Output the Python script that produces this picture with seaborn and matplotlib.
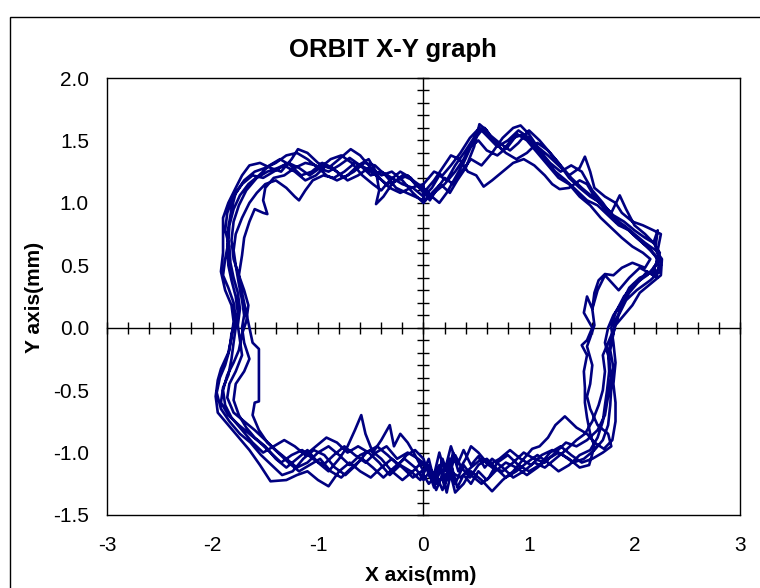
import pandas as pd
import matplotlib.pyplot as plt
import seaborn as sns
from matplotlib.patches import Rectangle
from matplotlib.ticker import MultipleLocator

# Orbit samples (x mm, y mm), one list per revolution
loop_1 = [(0.00,1.05),(0.08,1.12),(0.15,1.22),(0.22,1.18),(0.30,1.30),(0.40,1.42),(0.50,1.55),(0.58,1.60),(0.66,1.50),(0.75,1.42),(0.85,1.52),(0.95,1.55),(1.05,1.45),(1.15,1.35),(1.25,1.25),(1.35,1.18),(1.45,1.10),(1.55,1.02),(1.65,0.98),(1.75,0.90),(1.85,0.82),(1.95,0.78),(2.05,0.70),(2.15,0.62),(2.22,0.55),(2.18,0.45),(2.05,0.40),(1.95,0.32),(1.88,0.20),(1.80,0.10),(1.75,0.00),(1.72,-0.12),(1.76,-0.25),(1.78,-0.40),(1.75,-0.55),(1.72,-0.70),(1.65,-0.82),(1.55,-0.90),(1.45,-0.95),(1.35,-0.92),(1.25,-1.00),(1.15,-1.08),(1.05,-1.05),(0.95,-1.00),(0.85,-1.08),(0.75,-1.15),(0.65,-1.12),(0.55,-1.05),(0.45,-1.12),(0.35,-1.20),(0.25,-1.15),(0.15,-1.22),(0.05,-1.12),(-0.05,-1.05),(-0.15,-1.00),(-0.25,-1.05),(-0.35,-0.95),(-0.45,-1.00),(-0.55,-1.08),(-0.65,-1.02),(-0.75,-0.95),(-0.85,-1.02),(-0.95,-1.10),(-1.05,-1.05),(-1.15,-0.98),(-1.25,-1.02),(-1.35,-1.08),(-1.45,-1.00),(-1.55,-0.92),(-1.65,-0.85),(-1.75,-0.78),(-1.85,-0.70),(-1.92,-0.60),(-1.90,-0.48),(-1.85,-0.38),(-1.82,-0.25),(-1.80,-0.12),(-1.78,0.00),(-1.76,0.12),(-1.78,0.25),(-1.82,0.38),(-1.85,0.50),(-1.86,0.65),(-1.85,0.80),(-1.82,0.95),(-1.78,1.08),(-1.70,1.18),(-1.60,1.25),(-1.50,1.28),(-1.40,1.32),(-1.30,1.38),(-1.20,1.40),(-1.10,1.35),(-1.00,1.28),(-0.90,1.25),(-0.80,1.30),(-0.70,1.36),(-0.60,1.30),(-0.50,1.22),(-0.40,1.25),(-0.30,1.20),(-0.20,1.15),(-0.10,1.12),(0.00,1.05)]

loop_2 = [(0.00,1.10),(0.06,1.02),(0.12,1.10),(0.20,1.20),(0.28,1.15),(0.36,1.25),(0.45,1.35),(0.55,1.30),(0.65,1.40),(0.75,1.52),(0.85,1.60),(0.92,1.62),(1.00,1.55),(1.08,1.45),(1.18,1.38),(1.28,1.30),(1.38,1.22),(1.48,1.28),(1.53,1.37),(1.58,1.25),(1.62,1.12),(1.72,1.05),(1.82,1.00),(1.88,0.92),(1.98,0.85),(2.08,0.82),(2.18,0.78),(2.25,0.75),(2.22,0.62),(2.25,0.50),(2.18,0.42),(2.05,0.48),(1.95,0.40),(1.85,0.30),(1.72,0.42),(1.65,0.30),(1.60,0.15),(1.62,0.02),(1.58,-0.08),(1.55,-0.15),(1.60,-0.30),(1.58,-0.45),(1.55,-0.55),(1.58,-0.65),(1.65,-0.78),(1.75,-0.85),(1.78,-0.95),(1.70,-1.00),(1.60,-1.05),(1.50,-1.08),(1.40,-1.02),(1.30,-0.95),(1.20,-1.00),(1.10,-1.10),(1.00,-1.15),(0.90,-1.10),(0.80,-1.02),(0.70,-1.08),(0.62,-1.20),(0.55,-1.25),(0.45,-1.18),(0.38,-1.10),(0.30,-1.25),(0.25,-1.05),(0.20,-1.28),(0.15,-1.10),(0.10,-1.22),(0.05,-1.05),(0.00,-1.15),(-0.08,-1.02),(-0.15,-0.92),(-0.22,-0.85),(-0.28,-0.95),(-0.32,-0.78),(-0.40,-0.90),(-0.48,-1.00),(-0.55,-0.85),(-0.59,-0.70),(-0.65,-0.82),(-0.72,-0.95),(-0.80,-1.05),(-0.90,-1.15),(-1.00,-1.08),(-1.10,-0.98),(-1.20,-1.05),(-1.30,-1.12),(-1.40,-1.05),(-1.50,-0.95),(-1.60,-0.88),(-1.68,-0.80),(-1.75,-0.70),(-1.80,-0.58),(-1.78,-0.45),(-1.70,-0.35),(-1.65,-0.25),(-1.70,-0.12),(-1.72,0.00),(-1.70,0.10),(-1.72,0.22),(-1.75,0.35),(-1.78,0.50),(-1.80,0.62),(-1.78,0.75),(-1.72,0.88),(-1.65,1.00),(-1.58,1.08),(-1.50,1.15),(-1.40,1.18),(-1.30,1.12),(-1.22,1.05),(-1.18,1.02),(-1.12,1.10),(-1.05,1.18),(-0.95,1.22),(-0.85,1.20),(-0.75,1.25),(-0.65,1.32),(-0.55,1.28),(-0.45,1.22),(-0.35,1.15),(-0.25,1.18),(-0.15,1.22),(-0.08,1.15),(0.00,1.10)]

loop_3 = [(0.00,1.00),(0.08,1.08),(0.16,1.15),(0.25,1.08),(0.32,1.18),(0.40,1.28),(0.48,1.45),(0.53,1.63),(0.60,1.58),(0.68,1.48),(0.78,1.40),(0.88,1.35),(0.98,1.40),(1.08,1.48),(1.18,1.42),(1.28,1.32),(1.38,1.20),(1.48,1.12),(1.58,1.05),(1.68,1.00),(1.78,0.92),(1.86,1.06),(1.92,0.95),(2.00,0.82),(2.10,0.75),(2.18,0.68),(2.24,0.60),(2.20,0.50),(2.12,0.42),(2.00,0.35),(1.90,0.25),(1.82,0.12),(1.78,0.00),(1.80,-0.12),(1.82,-0.28),(1.80,-0.45),(1.82,-0.60),(1.82,-0.75),(1.79,-0.90),(1.71,-0.97),(1.62,-0.92),(1.55,-0.85),(1.45,-0.80),(1.34,-0.71),(1.25,-0.78),(1.18,-0.88),(1.10,-0.95),(1.03,-0.97),(0.95,-1.05),(0.85,-1.15),(0.75,-1.22),(0.65,-1.31),(0.55,-1.22),(0.45,-1.15),(0.38,-1.25),(0.30,-1.32),(0.25,-1.15),(0.18,-1.30),(0.12,-1.18),(0.05,-1.25),(-0.02,-1.15),(-0.10,-1.20),(-0.20,-1.12),(-0.30,-1.05),(-0.40,-1.12),(-0.50,-1.20),(-0.60,-1.15),(-0.70,-1.08),(-0.80,-1.15),(-0.90,-1.27),(-1.00,-1.22),(-1.10,-1.15),(-1.20,-1.18),(-1.30,-1.22),(-1.45,-1.23),(-1.55,-1.10),(-1.65,-0.98),(-1.75,-0.88),(-1.85,-0.78),(-1.95,-0.68),(-1.97,-0.55),(-1.95,-0.42),(-1.92,-0.33),(-1.85,-0.20),(-1.82,-0.08),(-1.80,0.05),(-1.82,0.18),(-1.88,0.30),(-1.92,0.45),(-1.90,0.60),(-1.90,0.75),(-1.90,0.88),(-1.85,1.00),(-1.78,1.12),(-1.72,1.22),(-1.65,1.30),(-1.55,1.32),(-1.45,1.28),(-1.35,1.25),(-1.25,1.35),(-1.19,1.43),(-1.10,1.40),(-1.00,1.32),(-0.90,1.28),(-0.80,1.35),(-0.69,1.43),(-0.60,1.38),(-0.50,1.28),(-0.40,1.22),(-0.30,1.25),(-0.20,1.18),(-0.10,1.08),(0.00,1.00)]

loop_4 = [(0.00,1.08),(0.10,1.18),(0.18,1.28),(0.26,1.38),(0.34,1.35),(0.42,1.25),(0.50,1.22),(0.57,1.13),(0.65,1.18),(0.75,1.25),(0.85,1.32),(0.95,1.35),(1.05,1.30),(1.15,1.22),(1.22,1.15),(1.29,1.11),(1.38,1.12),(1.48,1.18),(1.55,1.15),(1.62,1.05),(1.72,0.95),(1.82,0.85),(1.92,0.80),(2.02,0.72),(2.12,0.65),(2.20,0.58),(2.24,0.45),(2.15,0.38),(2.02,0.30),(1.92,0.22),(1.85,0.10),(1.80,-0.02),(1.75,-0.12),(1.70,-0.22),(1.72,-0.35),(1.70,-0.50),(1.66,-0.62),(1.60,-0.75),(1.53,-0.85),(1.45,-0.90),(1.35,-0.98),(1.25,-1.05),(1.15,-1.12),(1.05,-1.08),(0.95,-1.15),(0.85,-1.20),(0.75,-1.12),(0.65,-1.05),(0.58,-1.12),(0.52,-1.03),(0.45,-1.10),(0.38,-0.98),(0.32,-1.10),(0.26,-0.95),(0.20,-1.15),(0.15,-1.00),(0.10,-1.18),(0.04,-1.10),(-0.03,-1.22),(-0.12,-1.15),(-0.22,-1.10),(-0.32,-1.18),(-0.42,-1.08),(-0.52,-1.00),(-0.62,-0.95),(-0.72,-1.00),(-0.82,-0.92),(-0.92,-0.88),(-1.02,-0.95),(-1.12,-1.02),(-1.22,-0.95),(-1.32,-0.90),(-1.42,-0.95),(-1.52,-1.00),(-1.62,-0.92),(-1.72,-0.82),(-1.82,-0.72),(-1.88,-0.62),(-1.90,-0.50),(-1.86,-0.38),(-1.80,-0.28),(-1.75,-0.18),(-1.72,-0.05),(-1.68,0.05),(-1.66,0.18),(-1.70,0.30),(-1.75,0.42),(-1.80,0.55),(-1.82,0.70),(-1.80,0.85),(-1.75,0.98),(-1.68,1.10),(-1.58,1.20),(-1.48,1.25),(-1.38,1.28),(-1.28,1.32),(-1.18,1.28),(-1.08,1.22),(-0.98,1.28),(-0.88,1.35),(-0.78,1.38),(-0.68,1.32),(-0.58,1.22),(-0.48,1.15),(-0.40,1.10),(-0.32,1.18),(-0.22,1.25),(-0.12,1.20),(0.00,1.08)]

loop_5 = [(0.00,1.12),(0.08,1.05),(0.15,1.00),(0.22,1.08),(0.30,1.20),(0.38,1.32),(0.45,1.45),(0.52,1.50),(0.60,1.42),(0.70,1.38),(0.80,1.45),(0.89,1.55),(0.98,1.50),(1.08,1.40),(1.18,1.30),(1.28,1.20),(1.38,1.15),(1.48,1.05),(1.58,0.98),(1.68,0.88),(1.78,0.80),(1.88,0.72),(1.98,0.65),(2.08,0.60),(2.15,0.55),(2.10,0.48),(1.98,0.52),(1.88,0.48),(1.80,0.42),(1.72,0.43),(1.66,0.38),(1.62,0.28),(1.60,0.15),(1.55,0.25),(1.52,0.12),(1.60,0.00),(1.55,-0.10),(1.50,-0.14),(1.55,-0.22),(1.52,-0.35),(1.53,-0.48),(1.53,-0.60),(1.55,-0.72),(1.58,-0.85),(1.62,-0.95),(1.57,-1.10),(1.48,-1.12),(1.38,-1.05),(1.28,-1.00),(1.18,-1.05),(1.08,-1.12),(0.98,-1.18),(0.88,-1.12),(0.78,-1.08),(0.68,-1.15),(0.60,-1.22),(0.52,-1.15),(0.45,-1.25),(0.38,-1.18),(0.32,-1.28),(0.27,-1.12),(0.22,-1.32),(0.18,-1.18),(0.12,-1.30),(0.06,-1.15),(0.00,-1.22),(-0.08,-1.12),(-0.18,-1.05),(-0.28,-1.12),(-0.38,-1.20),(-0.48,-1.12),(-0.58,-1.05),(-0.68,-1.12),(-0.78,-1.20),(-0.88,-1.15),(-0.98,-1.05),(-1.08,-1.10),(-1.18,-1.15),(-1.28,-1.08),(-1.38,-1.00),(-1.48,-0.92),(-1.56,-0.82),(-1.62,-0.70),(-1.60,-0.60),(-1.56,-0.59),(-1.56,-0.40),(-1.56,-0.17),(-1.62,-0.12),(-1.65,0.00),(-1.68,0.12),(-1.72,0.28),(-1.75,0.42),(-1.72,0.58),(-1.70,0.72),(-1.65,0.85),(-1.60,0.95),(-1.52,0.92),(-1.48,0.91),(-1.52,1.02),(-1.50,1.12),(-1.42,1.20),(-1.32,1.22),(-1.22,1.28),(-1.12,1.32),(-1.02,1.30),(-0.92,1.22),(-0.82,1.18),(-0.72,1.22),(-0.62,1.30),(-0.52,1.35),(-0.45,1.25),(-0.42,1.10),(-0.45,0.99),(-0.38,1.05),(-0.30,1.15),(-0.20,1.22),(-0.10,1.18),(0.00,1.12)]

loop_6 = [(0.00,1.02),(0.10,1.08),(0.20,1.15),(0.30,1.25),(0.38,1.35),(0.46,1.48),(0.55,1.58),(0.62,1.52),(0.70,1.45),(0.80,1.50),(0.90,1.58),(1.00,1.52),(1.10,1.42),(1.20,1.32),(1.30,1.25),(1.40,1.30),(1.50,1.25),(1.60,1.10),(1.70,1.00),(1.80,0.88),(1.90,0.82),(2.00,0.75),(2.10,0.68),(2.20,0.62),(2.26,0.55),(2.25,0.42),(2.15,0.35),(2.05,0.28),(1.98,0.18),(1.90,0.10),(1.82,0.02),(1.78,-0.10),(1.75,-0.20),(1.76,-0.35),(1.74,-0.50),(1.72,-0.62),(1.70,-0.75),(1.65,-0.88),(1.58,-0.98),(1.48,-1.02),(1.38,-1.10),(1.28,-1.15),(1.18,-1.08),(1.08,-1.02),(0.98,-1.08),(0.88,-1.15),(0.78,-1.20),(0.68,-1.12),(0.60,-1.05),(0.52,-1.10),(0.44,-1.20),(0.36,-1.12),(0.30,-1.02),(0.24,-1.20),(0.18,-1.05),(0.12,-1.25),(0.06,-1.20),(0.00,-1.05),(-0.08,-0.98),(-0.16,-1.02),(-0.24,-1.10),(-0.34,-1.02),(-0.44,-0.95),(-0.54,-1.00),(-0.64,-1.10),(-0.74,-1.18),(-0.84,-1.12),(-0.94,-1.02),(-1.04,-0.98),(-1.14,-1.05),(-1.24,-1.15),(-1.34,-1.18),(-1.44,-1.10),(-1.54,-1.02),(-1.64,-0.92),(-1.74,-0.85),(-1.84,-0.75),(-1.92,-0.65),(-1.96,-0.52),(-1.93,-0.40),(-1.88,-0.30),(-1.84,-0.18),(-1.82,-0.05),(-1.78,0.08),(-1.80,0.20),(-1.85,0.32),(-1.90,0.42),(-1.88,0.55),(-1.85,0.68),(-1.84,0.82),(-1.80,0.95),(-1.74,1.06),(-1.66,1.15),(-1.56,1.22),(-1.46,1.30),(-1.36,1.35),(-1.26,1.30),(-1.16,1.22),(-1.06,1.25),(-0.96,1.32),(-0.86,1.28),(-0.76,1.20),(-0.66,1.25),(-0.56,1.32),(-0.46,1.30),(-0.36,1.22),(-0.26,1.12),(-0.16,1.08),(-0.08,1.05),(0.00,1.02)]

loop_7 = [(0.00,1.15),(0.10,1.25),(0.18,1.22),(0.26,1.30),(0.35,1.40),(0.44,1.52),(0.53,1.60),(0.62,1.55),(0.72,1.48),(0.82,1.42),(0.90,1.48),(1.00,1.58),(1.10,1.50),(1.20,1.40),(1.30,1.30),(1.40,1.20),(1.50,1.12),(1.60,1.05),(1.70,0.98),(1.80,0.90),(1.90,0.85),(2.00,0.78),(2.10,0.72),(2.18,0.68),(2.22,0.78),(2.20,0.65),(2.24,0.55),(2.18,0.48),(2.22,0.40),(2.12,0.45),(2.05,0.38),(1.95,0.28),(1.88,0.18),(1.82,0.05),(1.80,-0.05),(1.77,-0.18),(1.80,-0.32),(1.78,-0.48),(1.77,-0.62),(1.75,-0.78),(1.70,-0.90),(1.62,-0.98),(1.52,-1.05),(1.42,-1.08),(1.32,-1.02),(1.22,-0.98),(1.12,-1.02),(1.02,-1.10),(0.92,-1.05),(0.82,-0.98),(0.72,-1.05),(0.62,-1.10),(0.52,-1.00),(0.45,-0.95),(0.40,-1.05),(0.33,-1.15),(0.28,-1.00),(0.22,-1.22),(0.16,-1.12),(0.10,-1.28),(0.05,-1.15),(-0.02,-1.08),(-0.10,-1.15),(-0.20,-1.22),(-0.30,-1.15),(-0.40,-1.05),(-0.50,-0.98),(-0.60,-1.02),(-0.70,-1.10),(-0.80,-1.02),(-0.90,-0.95),(-1.00,-1.00),(-1.10,-1.08),(-1.20,-1.12),(-1.30,-1.05),(-1.40,-0.98),(-1.50,-0.90),(-1.60,-0.82),(-1.70,-0.75),(-1.80,-0.68),(-1.86,-0.56),(-1.84,-0.45),(-1.78,-0.35),(-1.72,-0.22),(-1.74,-0.10),(-1.76,0.02),(-1.74,0.15),(-1.76,0.28),(-1.80,0.40),(-1.83,0.52),(-1.84,0.65),(-1.88,0.78),(-1.86,0.92),(-1.80,1.05),(-1.72,1.15),(-1.62,1.22),(-1.52,1.20),(-1.42,1.25),(-1.32,1.30),(-1.22,1.25),(-1.12,1.18),(-1.02,1.22),(-0.92,1.30),(-0.82,1.25),(-0.72,1.18),(-0.62,1.22),(-0.52,1.28),(-0.42,1.20),(-0.32,1.12),(-0.22,1.08),(-0.12,1.12),(0.00,1.15)]

x_ticks = [-3, -2, -1, 0, 1, 2, 3]
y_ticks = [-1.5, -1.0, -0.5, 0.0, 0.5, 1.0, 1.5, 2.0]

# one continuous trace
loops = [loop_1, loop_2, loop_3, loop_4, loop_5, loop_6, loop_7]
points = [p for loop in loops for p in loop]
df = pd.DataFrame(points, columns=["x", "y"])

sns.set_style("white")
plt.rcParams["font.family"] = ["Liberation Sans", "DejaVu Sans"]
plt.rcParams["text.color"] = "black"

fig = plt.figure(figsize=(7.6, 5.88), dpi=100)
pos = [107 / 760, 1 - 515 / 588, 633 / 760, 437 / 588]

# cross axes through the origin, with tick marks on both sides
ax0 = fig.add_axes(pos)
ax0.set_xlim(-3, 3)
ax0.set_ylim(-1.5, 2.0)
for s in ["top", "right"]:
    ax0.spines[s].set_visible(False)
ax0.spines["left"].set_position(("data", 0))
ax0.spines["bottom"].set_position(("data", 0))
for s in ["left", "bottom"]:
    ax0.spines[s].set_color("black")
    ax0.spines[s].set_linewidth(1.0)
ax0.xaxis.set_major_locator(MultipleLocator(0.2))
ax0.yaxis.set_major_locator(MultipleLocator(0.1))
ax0.tick_params(direction="inout", length=8, width=1, color="black",
                labelbottom=False, labelleft=False, bottom=True, left=True)

# plot box with labels on the outside
ax = fig.add_axes(pos, facecolor="none")
sns.lineplot(data=df, x="x", y="y", sort=False, estimator=None,
             color="#000080", linewidth=1.9, ax=ax)
ax.set_xlim(-3, 3)
ax.set_ylim(-1.5, 2.0)
ax.set_xticks(x_ticks)
ax.set_yticks(y_ticks)
ax.set_xticklabels([str(v) for v in x_ticks])
ax.set_yticklabels(["%.1f" % v for v in y_ticks])
ax.tick_params(length=0, labelsize=15, colors="black")
ax.tick_params(axis="x", pad=15)
ax.tick_params(axis="y", pad=13)
ax.set_xlabel("")
ax.set_ylabel("")
for s in ax.spines.values():
    s.set_visible(True)
    s.set_color("black")
    s.set_linewidth(1.0)

fig.text(393 / 760, 1 - 56.5 / 588, "ORBIT X-Y graph", ha="center", va="baseline",
         fontsize=18.5, fontweight="bold")
fig.text(421 / 760, 1 - 581 / 588, "X axis(mm)", ha="center", va="baseline",
         fontsize=15, fontweight="bold")
fig.text(35 / 760, 1 - 297 / 588, "Y axis(mm)", ha="center", va="center",
         rotation=90, fontsize=15, fontweight="bold")

# chart area border
fig.patches.append(Rectangle((10 / 760, -0.1), 1.2, 1.1 - 17 / 588, fill=False,
                             edgecolor="black", linewidth=1.0,
                             transform=fig.transFigure, figure=fig))

fig.savefig("out.png", dpi=100)
